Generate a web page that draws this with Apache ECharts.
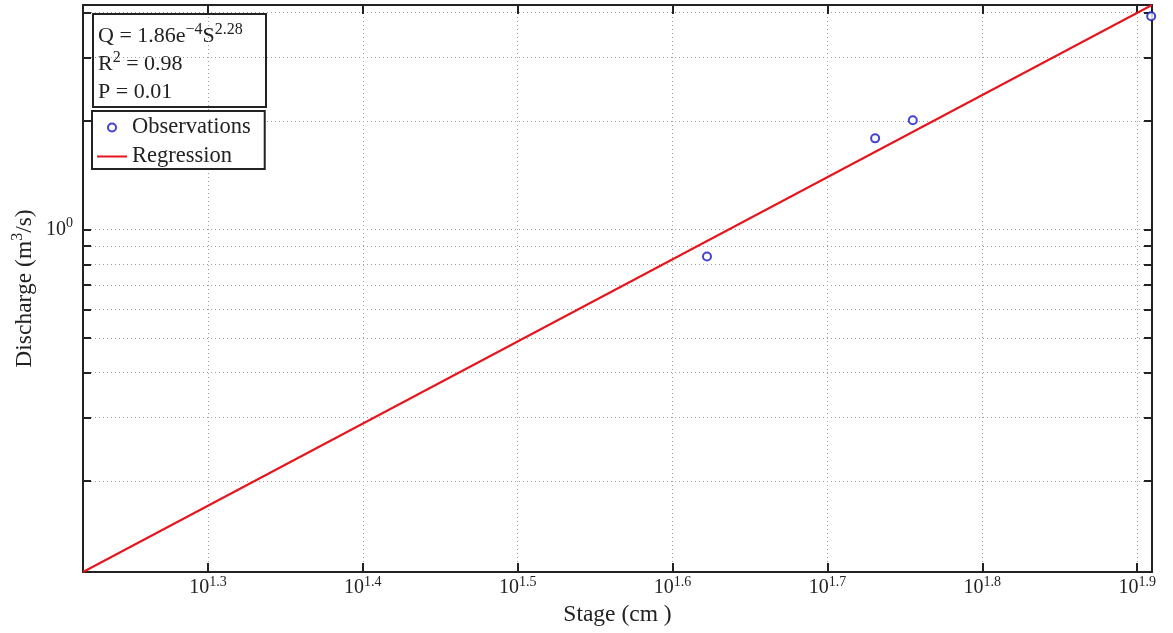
<!DOCTYPE html>
<html>
<head>
<meta charset="utf-8">
<script src="https://cdn.jsdelivr.net/npm/echarts@6/dist/echarts.min.js"></script>
<style>
  html, body { margin: 0; background: #fff; }
  #chart { width: 1173px; height: 633px; }
</style>
</head>
<body>
<div id="chart"></div>
<script>
// observations: stage (cm) and discharge (m3/s)
const stage = [41.9, 53.8, 56.9, 81.1]
const discharge = [0.841, 1.79, 2.01, 3.91]
// regression line end points (plot corners)
const fitStage = [16.57, 81.2]
const fitDischarge = [0.1118, 4.2]
// x ticks are 10^exp, y grid lines at these values, y label only at 1
const xTickExp = [1.3, 1.4, 1.5, 1.6, 1.7, 1.8, 1.9]
const yGrid = [0.2, 0.3, 0.4, 0.5, 0.6, 0.7, 0.8, 0.9, 1, 2, 3, 4]
const yLabelVals = [1]

const FONT = 'Liberation Serif'
const INK = '#222'
const xTicks = xTickExp.map(e => Math.pow(10, e))

// tick label rich text: superscript sits at the top of the line
const tickRich = {
  b: { fontFamily: FONT, fontSize: 20, lineHeight: 26, color: INK },
  s: { fontFamily: FONT, fontSize: 14, lineHeight: 8, color: INK, verticalAlign: 'top' }
}
const nameRich = {
  b: { fontFamily: FONT, fontSize: 23.5, lineHeight: 30, color: INK },
  s: { fontFamily: FONT, fontSize: 16, lineHeight: 10, color: INK, verticalAlign: 'top' }
}

function xAxisOpt(isMain) {
  return {
    type: 'log',
    position: isMain ? 'bottom' : 'top',
    min: fitStage[0],
    max: fitStage[1],
    axisLine: { show: true, onZero: false, lineStyle: { color: INK, width: 2 } },
    axisTick: { show: true, inside: true, length: 9, customValues: xTicks, lineStyle: { color: INK, width: 2 } },
    minorTick: { show: false },
    axisLabel: {
      show: isMain,
      customValues: xTicks,
      margin: 3,
      formatter: v => '{b|10}{s|' + Math.log10(v).toFixed(1) + '}',
      rich: tickRich
    },
    splitLine: {
      show: isMain,
      lineStyle: { color: '#a0a0a0', width: 1, type: [1, 3] }
    },
    name: isMain ? 'Stage (cm )' : '',
    nameLocation: 'middle',
    nameGap: 31,
    nameTextStyle: { fontFamily: FONT, fontSize: 23.5, color: INK }
  }
}

function yAxisOpt(isMain) {
  return {
    type: 'log',
    position: isMain ? 'left' : 'right',
    min: fitDischarge[0],
    max: fitDischarge[1],
    axisLine: { show: true, onZero: false, lineStyle: { color: INK, width: 2 } },
    axisTick: { show: true, inside: true, length: 8, customValues: yGrid, lineStyle: { color: INK, width: 2 } },
    minorTick: { show: false },
    axisLabel: {
      show: isMain,
      customValues: yLabelVals,
      margin: 10,
      formatter: v => '{b|10}{s|' + Math.round(Math.log10(v)) + '}',
      rich: tickRich
    },
    splitLine: {
      show: isMain,
      lineStyle: { color: '#a0a0a0', width: 1, type: [1, 3] }
    },
    name: isMain ? '{b|Discharge (m}{s|3}{b|/s)}' : '',
    nameLocation: 'middle',
    nameGap: 43,
    nameMoveOverlap: false,
    nameTextStyle: { rich: nameRich }
  }
}

const chart = echarts.init(document.getElementById('chart'))
chart.setOption({
  animation: false,
  backgroundColor: '#fff',
  grid: { left: 83, right: 21, top: 5, bottom: 61 },
  xAxis: [xAxisOpt(true), xAxisOpt(false)],
  yAxis: [yAxisOpt(true), yAxisOpt(false)],
  legend: {
    orient: 'vertical',
    left: 92,
    top: 111,
    padding: [5, 14, 1, 5],
    itemGap: 6,
    itemWidth: 30,
    itemHeight: 8,
    backgroundColor: '#fff',
    borderColor: INK,
    borderWidth: 2,
    borderRadius: 0,
    textStyle: { fontFamily: FONT, fontSize: 22.5, color: INK },
    data: [
      'Observations',
      { name: 'Regression', icon: 'path://M0,0h30v2h-30z' }
    ]
  },
  graphic: [{
    type: 'group',
    left: 92,
    top: 13,
    children: [
      {
        type: 'rect',
        shape: { x: 0, y: 0, width: 173, height: 93 },
        style: { fill: '#fff', stroke: INK, lineWidth: 2 }
      },
      {
        type: 'text',
        x: 5,
        y: 8,
        style: {
          text: '{b|Q = 1.86e}{s|−4}{b|S}{s|2.28}\n{b|R}{s|2}{b| = 0.98}\n{b|P = 0.01}',
          rich: {
            b: { fontFamily: FONT, fontSize: 22, lineHeight: 28, fill: INK },
            s: { fontFamily: FONT, fontSize: 16, lineHeight: 10, fill: INK, verticalAlign: 'top' }
          }
        }
      }
    ]
  }],
  series: [
    {
      name: 'Regression',
      type: 'line',
      symbol: 'none',
      data: fitStage.map((s, i) => [s, fitDischarge[i]]),
      lineStyle: { color: '#e8141c', width: 2 },
      itemStyle: { color: '#e8141c' },
      z: 2
    },
    {
      name: 'Observations',
      type: 'scatter',
      symbol: 'emptyCircle',
      symbolSize: 8,
      data: stage.map((s, i) => [s, discharge[i]]),
      itemStyle: { color: '#1515c8', borderColor: '#1515c8', borderWidth: 2 },
      z: 3
    }
  ]
})
</script>
</body>
</html>
